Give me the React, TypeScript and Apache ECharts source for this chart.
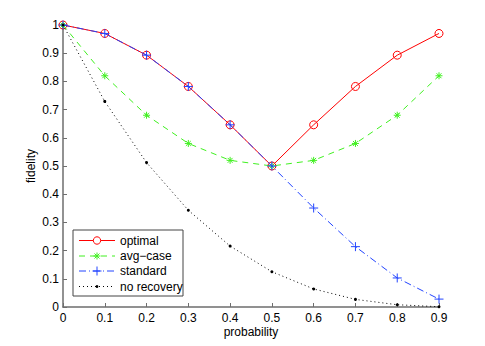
import React, { useEffect, useRef } from "react";
import * as echarts from "echarts";

const probs = [0, 0.1, 0.2, 0.3, 0.4, 0.5, 0.6, 0.7, 0.8, 0.9];
const optimal = [1, 0.97, 0.893, 0.782, 0.646, 0.5, 0.646, 0.782, 0.893, 0.97];
const avgCase = [1, 0.82, 0.68, 0.58, 0.52, 0.5, 0.52, 0.58, 0.68, 0.82];
const standard = [1, 0.97, 0.893, 0.782, 0.646, 0.5, 0.351, 0.214, 0.103, 0.028];
const noRecovery = [1, 0.729, 0.512, 0.343, 0.216, 0.125, 0.064, 0.027, 0.008, 0.001];
const yTicks = ["0", "0.1", "0.2", "0.3", "0.4", "0.5", "0.6", "0.7", "0.8", "0.9", "1"];
const seriesNames = ["optimal", "avg\u2212case", "standard", "no recovery"];

const FONT = "Liberation Sans";
const RED = "#ff0000";
const GREEN = "#40f020";
const BLUE = "#2244ff";
const BLACK = "#000000";
const asterisk = "path://M0,5L10,5M5,0L5,10M1.5,1.5L8.5,8.5M8.5,1.5L1.5,8.5";
const plus = "path://M0,5L10,5M5,0L5,10";

const pairs = (ys: number[]) => probs.map((p, i) => [p, ys[i]]);

function legendGraphic() {
  const x0 = 73, y0 = 230, w = 110, h = 66;
  const rows = [240.5, 256, 271, 286.5];
  const lx1 = 79, lx2 = 115, sx = 97, tx = 120;
  const els: any[] = [
    { type: "rect", shape: { x: x0, y: y0, width: w, height: h }, style: { fill: "#fff", stroke: "#444", lineWidth: 1 }, z: 100 },
  ];
  const styles = [
    { stroke: RED, lineDash: null },
    { stroke: GREEN, lineDash: [6, 5] },
    { stroke: BLUE, lineDash: [7, 3, 1, 3] },
    { stroke: BLACK, lineDash: [1, 3] },
  ];
  rows.forEach((y, i) => {
    els.push({
      type: "line",
      shape: { x1: lx1, y1: y, x2: lx2, y2: y },
      style: { stroke: styles[i].stroke, lineWidth: 1, lineDash: styles[i].lineDash },
      z: 101,
    });
    els.push({
      type: "text",
      x: tx,
      y: y,
      style: { text: seriesNames[i], fill: "#000", font: `12px "${FONT}"`, textVerticalAlign: "middle", verticalAlign: "middle" },
      z: 101,
    });
  });
  els.push({ type: "circle", shape: { cx: sx, cy: rows[0], r: 3.7 }, style: { fill: "#fff", stroke: RED, lineWidth: 1 }, z: 102 });
  const a = 3.5, d = 2.5;
  [[-a, 0, a, 0], [0, -a, 0, a], [-d, -d, d, d], [d, -d, -d, d]].forEach((s) =>
    els.push({ type: "line", shape: { x1: sx + s[0], y1: rows[1] + s[1], x2: sx + s[2], y2: rows[1] + s[3] }, style: { stroke: GREEN, lineWidth: 1 }, z: 102 })
  );
  const p = 4.5;
  [[-p, 0, p, 0], [0, -p, 0, p]].forEach((s) =>
    els.push({ type: "line", shape: { x1: sx + s[0], y1: rows[2] + s[1], x2: sx + s[2], y2: rows[2] + s[3] }, style: { stroke: BLUE, lineWidth: 1 }, z: 102 })
  );
  els.push({ type: "circle", shape: { cx: sx, cy: rows[3], r: 1.4 }, style: { fill: BLACK }, z: 102 });
  return els;
}

export default function App() {
  const ref = useRef<HTMLDivElement>(null);
  useEffect(() => {
    const chart = echarts.init(ref.current!, null, { renderer: "svg" });
    chart.setOption({
      animation: false,
      backgroundColor: "#ffffff",
      textStyle: { fontFamily: FONT },
      grid: { left: 63, right: 46, top: 25, bottom: 39, containLabel: false },
      xAxis: {
        type: "value",
        min: 0,
        max: 0.9,
        interval: 0.1,
        name: "probability",
        nameLocation: "middle",
        nameGap: 19,
        nameMoveOverlap: false,
        nameTextStyle: { color: "#000", fontSize: 12, fontFamily: FONT },
        axisLine: { lineStyle: { color: "#6e6e6e", width: 1.5 } },
        axisTick: { inside: true, length: 4, lineStyle: { color: "#6e6e6e" } },
        axisLabel: { color: "#000", fontSize: 12, margin: 5, fontFamily: FONT },
        splitLine: { show: false },
      },
      yAxis: {
        type: "value",
        min: 0,
        max: 1,
        interval: 0.1,
        name: "fidelity",
        nameLocation: "middle",
        nameGap: 26,
        nameMoveOverlap: false,
        nameTextStyle: { color: "#000", fontSize: 12, fontFamily: FONT },
        axisLine: { show: true, lineStyle: { color: "#6e6e6e", width: 1.5 } },
        axisTick: { show: true, inside: true, length: 4, lineStyle: { color: "#6e6e6e" } },
        axisLabel: {
          color: "#000",
          fontSize: 12,
          margin: 4,
          fontFamily: FONT,
          formatter: (v: number) => yTicks[Math.round(v * 10)],
        },
        splitLine: { show: false },
      },
      graphic: legendGraphic(),
      series: [
        {
          name: seriesNames[0],
          type: "line",
          data: pairs(optimal),
          symbol: "circle",
          symbolSize: 8,
          lineStyle: { color: RED, width: 1 },
          itemStyle: { color: "rgba(0,0,0,0)", borderColor: RED, borderWidth: 1 },
          z: 2,
        },
        {
          name: seriesNames[1],
          type: "line",
          data: pairs(avgCase),
          symbol: asterisk,
          symbolSize: 7,
          lineStyle: { color: GREEN, width: 1, type: [6, 5] },
          itemStyle: { color: "rgba(0,0,0,0)", borderColor: GREEN, borderWidth: 1 },
          z: 3,
        },
        {
          name: seriesNames[2],
          type: "line",
          data: pairs(standard),
          symbol: plus,
          symbolSize: 9,
          lineStyle: { color: BLUE, width: 1, type: [7, 3, 1, 3] },
          itemStyle: { color: "rgba(0,0,0,0)", borderColor: BLUE, borderWidth: 1 },
          z: 4,
        },
        {
          name: seriesNames[3],
          type: "line",
          data: pairs(noRecovery),
          symbol: "circle",
          symbolSize: 3,
          lineStyle: { color: BLACK, width: 1, type: [1, 3] },
          itemStyle: { color: BLACK },
          z: 5,
        },
      ],
    });
    return () => chart.dispose();
  }, []);
  return (
    <div
      ref={ref}
      style={{ position: "fixed", left: 0, top: 0, width: 485, height: 346, background: "#fff" }}
    />
  );
}
